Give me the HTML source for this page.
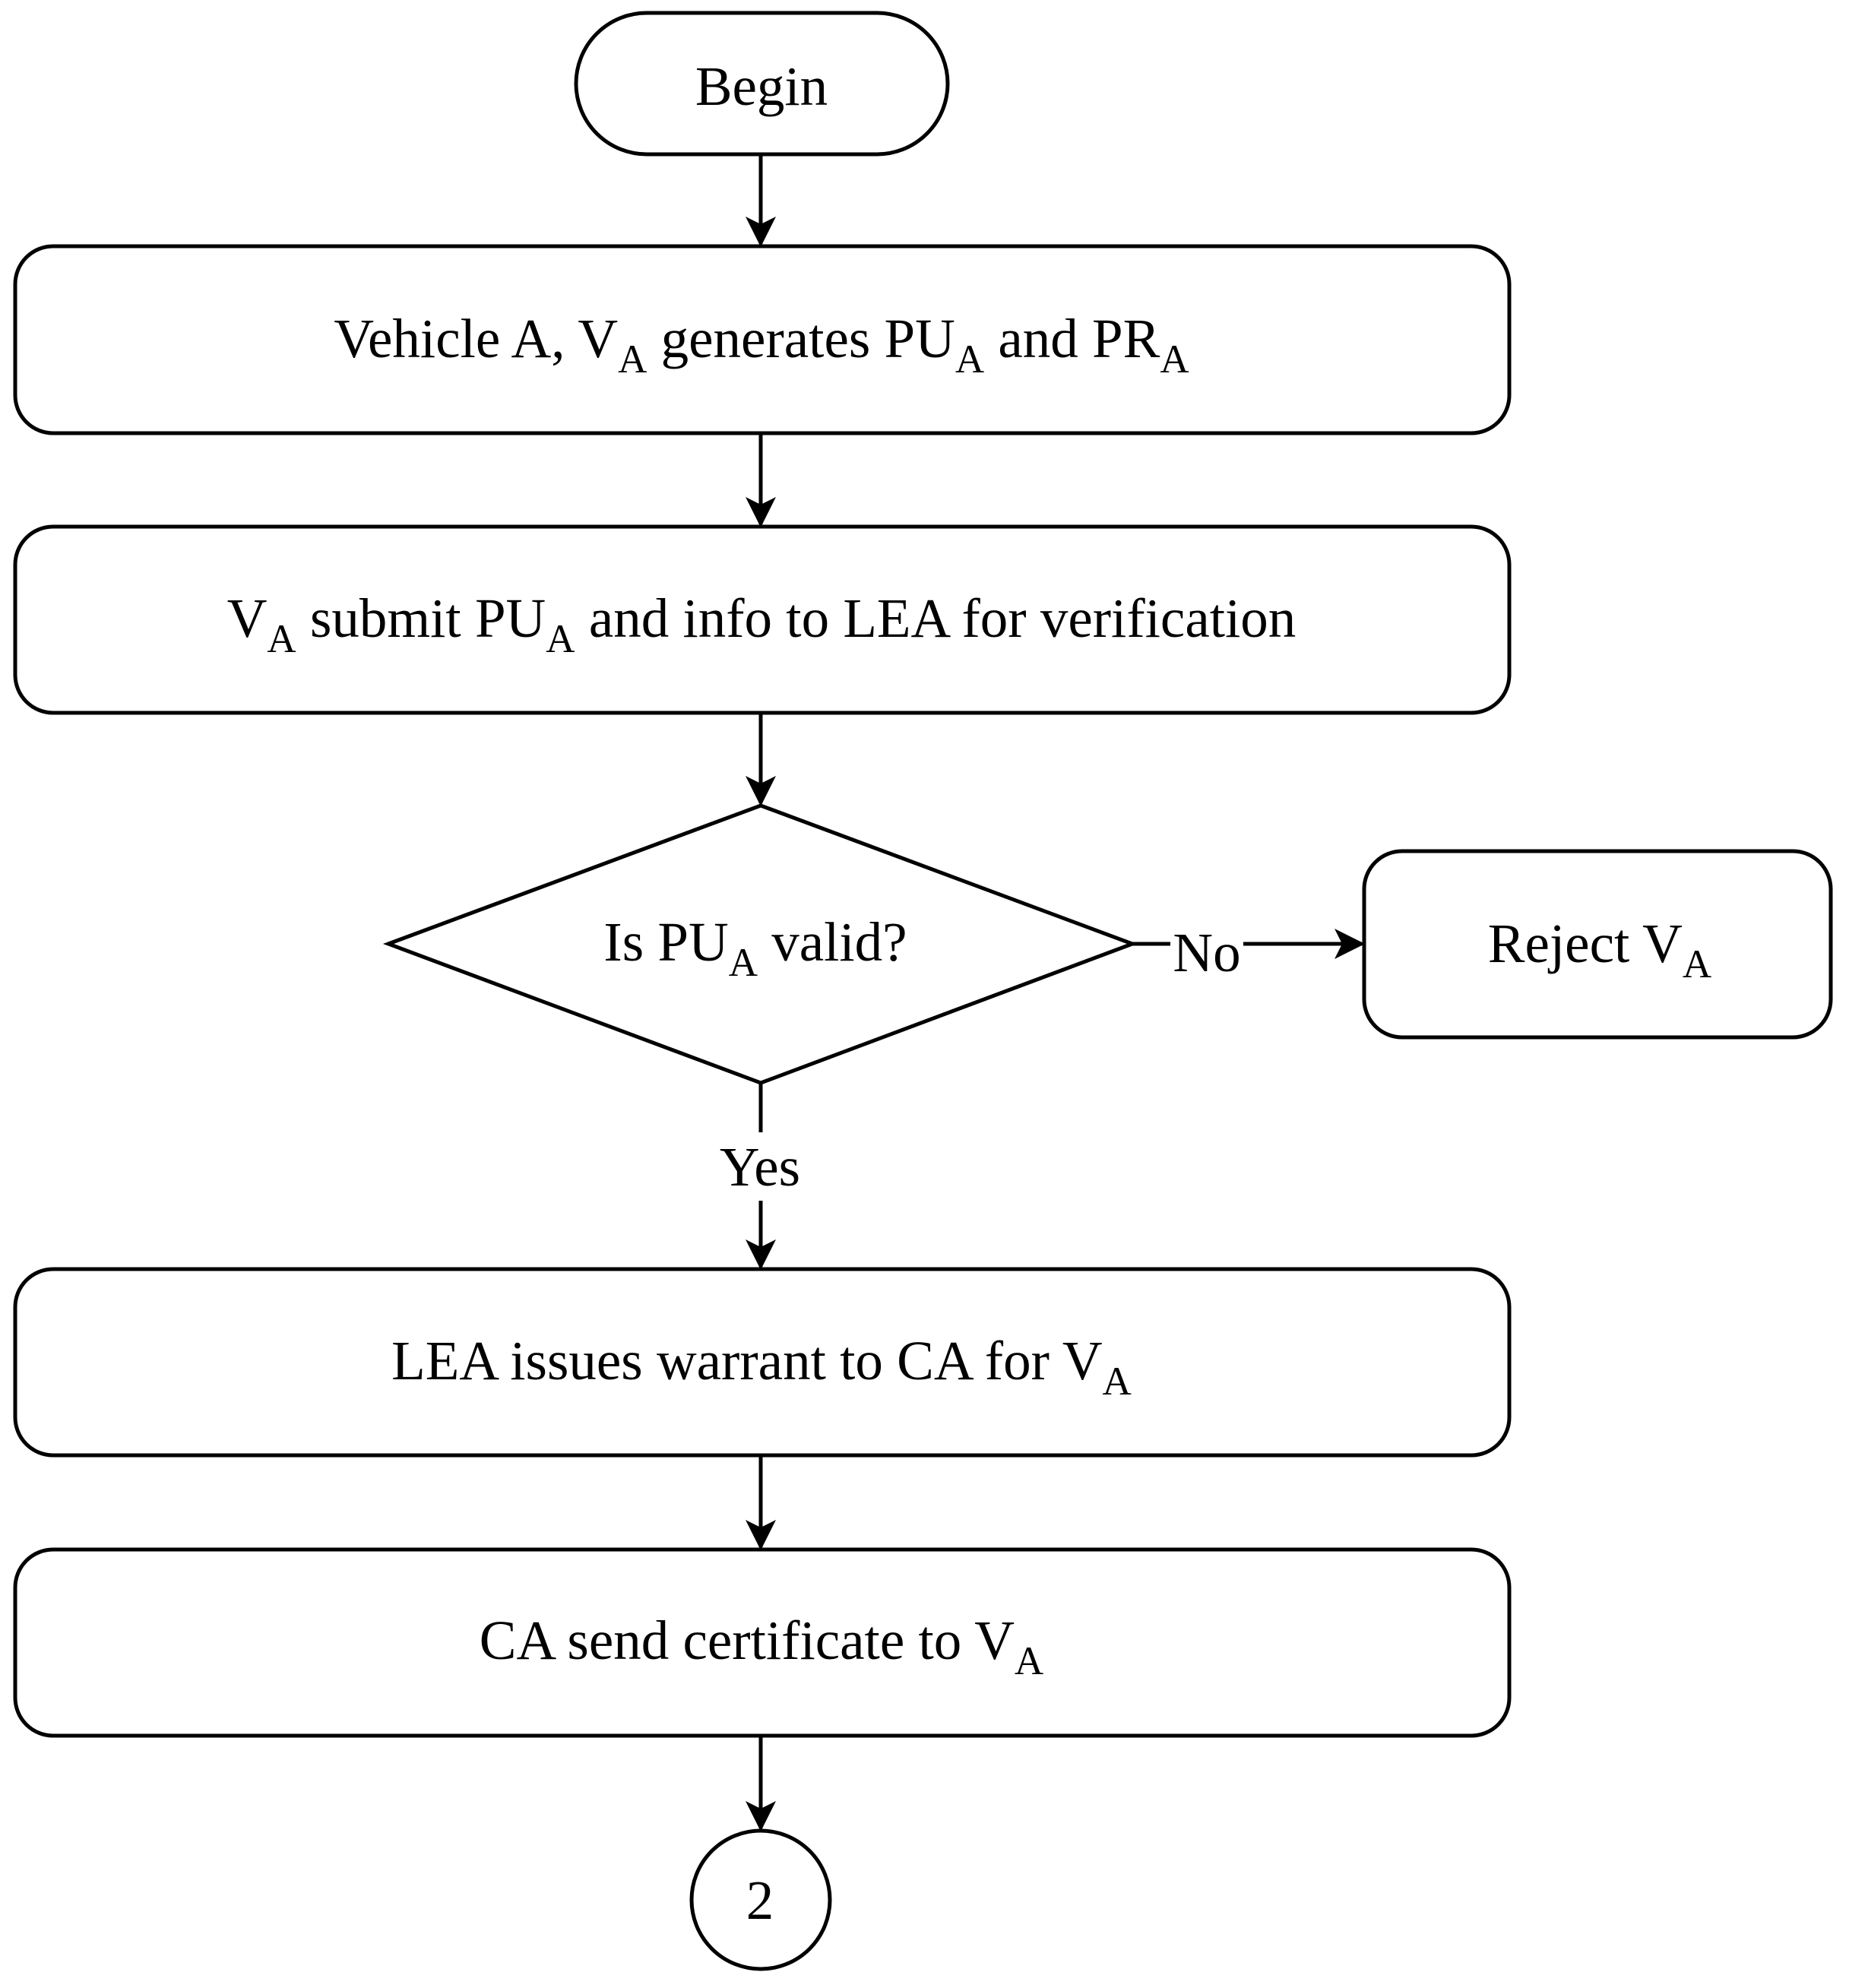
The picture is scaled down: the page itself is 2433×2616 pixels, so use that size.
<!DOCTYPE html>
<html><head><meta charset="utf-8"><style>html,body{margin:0;padding:0;background:#fff}</style></head>
<body>
<svg width="2433" height="2611" viewBox="0 0 2433 2611" xmlns="http://www.w3.org/2000/svg" font-family="Liberation Serif, serif" font-size="73" fill="none" stroke="#000" stroke-width="5">
<defs><marker id="a" markerWidth="40" markerHeight="40" refX="36" refY="20" orient="auto" markerUnits="userSpaceOnUse" viewBox="0 0 40 40"><path d="M0,0 L40,20 L0,40 L10,20 Z" fill="#000" stroke="none"/></marker></defs>
<rect x="758" y="17" width="489" height="186" rx="93" fill="#fff"/>
<rect x="20" y="324" width="1966" height="246" rx="50" fill="#fff"/>
<rect x="20" y="693" width="1966" height="245" rx="50" fill="#fff"/>
<polygon points="511,1242 1001,1060 1490,1242 1001,1425" fill="#fff"/>
<rect x="1795" y="1120" width="614" height="245" rx="50" fill="#fff"/>
<rect x="20" y="1670" width="1966" height="245" rx="50" fill="#fff"/>
<rect x="20" y="2039" width="1966" height="245" rx="50" fill="#fff"/>
<circle cx="1001" cy="2500" r="91" fill="#fff"/>
<path d="M1001 203 V321" marker-end="url(#a)"/>
<path d="M1001 570 V690" marker-end="url(#a)"/>
<path d="M1001 938 V1057" marker-end="url(#a)"/>
<path d="M1490 1242 H1540 M1636 1242 H1792" marker-end="url(#a)"/>
<path d="M1001 1425 V1490 M1001 1580 V1667" marker-end="url(#a)"/>
<path d="M1001 1915 V2036" marker-end="url(#a)"/>
<path d="M1001 2284 V2406" marker-end="url(#a)"/>
<g fill="#000" stroke="none" text-anchor="middle">
<text x="1002" y="138">Begin</text>
<text x="1002" y="470">Vehicle A, V<tspan font-size="53" dy="20">A</tspan><tspan dy="-20"> generates PU</tspan><tspan font-size="53" dy="20">A</tspan><tspan dy="-20"> and PR</tspan><tspan font-size="53" dy="20">A</tspan></text>
<text x="1002" y="838">V<tspan font-size="53" dy="20">A</tspan><tspan dy="-20"> submit PU</tspan><tspan font-size="53" dy="20">A</tspan><tspan dy="-20"> and info to LEA for verification</tspan></text>
<text x="994" y="1264">Is PU<tspan font-size="53" dy="20">A</tspan><tspan dy="-20"> valid?</tspan></text>
<text x="1588" y="1278">No</text>
<text x="2105" y="1266">Reject V<tspan font-size="53" dy="20">A</tspan></text>
<text x="1000" y="1560">Yes</text>
<text x="1002" y="1815">LEA issues warrant to CA for V<tspan font-size="53" dy="20">A</tspan></text>
<text x="1002" y="2183">CA send certificate to V<tspan font-size="53" dy="20">A</tspan></text>
<text x="1000" y="2525">2</text>
</g>
</svg>
</body></html>
